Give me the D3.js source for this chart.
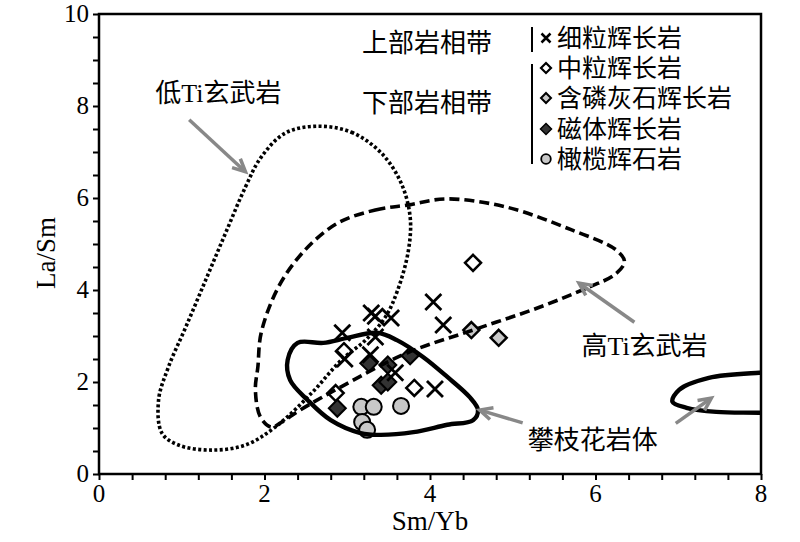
<!DOCTYPE html>
<html><head><meta charset="utf-8">
<script src="https://cdn.jsdelivr.net/npm/d3@7"></script>
<style>body{margin:0;background:#fff}svg{display:block}</style>
</head><body>
<svg id="c" width="800" height="542"></svg>
<script>
// ---- data ----
const xTicks = [0, 2, 4, 6, 8];
const yTicks = [0, 2, 4, 6, 8, 10];
const xLabel = "Sm/Yb";
const yLabel = "La/Sm";

// 细粒辉长岩 (crosses)
const fineGabbro = [[2.94,3.07],[2.97,2.50],[3.29,3.50],[3.34,3.43],[3.53,3.39],[3.34,2.98],[3.28,2.59],[3.58,2.20],[4.04,3.74],[4.16,3.24],[4.06,1.85]];
// 中粒辉长岩 (open diamonds)
const mediumGabbro = [[4.52,4.59],[2.96,2.67],[3.81,1.87],[2.86,1.76]];
// 含磷灰石辉长岩 (grey diamonds)
const apatiteGabbro = [[4.83,2.96],[4.50,3.13]];
// 磁体辉长岩 (black diamonds)
const magnetiteGabbro = [[2.88,1.43],[3.26,2.41],[3.49,2.37],[3.41,1.93],[3.49,2.00],[3.76,2.57]];
// 橄榄辉石岩 (grey circles)
const olivinePyroxenite = [[3.17,1.46],[3.32,1.46],[3.65,1.48],[3.18,1.13],[3.24,0.96]];

// fields
const lowTiField = [[2.63,7.56],[3.05,7.43],[3.41,6.98],[3.65,6.33],[3.76,5.59],[3.74,4.87],[3.61,4.00],[3.46,3.41],[3.22,2.91],[2.93,2.48],[2.57,1.76],[2.13,1.02],[1.77,0.63],[1.36,0.52],[0.96,0.63],[0.76,0.89],[0.72,1.61],[0.84,2.33],[1.05,3.20],[1.29,4.22],[1.53,5.24],[1.77,6.24],[1.96,6.89],[2.25,7.41]];
const highTiField = [[2.89,5.46],[3.34,5.74],[3.74,5.85],[4.20,5.98],[4.93,5.80],[5.72,5.30],[6.25,4.87],[6.35,4.61],[6.23,4.33],[5.93,4.07],[5.33,3.63],[4.52,3.13],[3.72,2.63],[2.92,1.89],[2.43,1.39],[2.20,1.12],[2.08,1.02],[1.95,1.24],[1.89,1.83],[1.92,2.33],[1.96,3.07],[2.17,4.07],[2.49,4.87]];
const panzhihuaField = [[2.28,2.48],[2.40,2.85],[2.71,2.85],[3.00,2.96],[3.36,3.07],[3.60,2.91],[3.92,2.54],[4.21,2.11],[4.48,1.67],[4.58,1.39],[4.52,1.17],[4.21,1.07],[3.80,0.91],[3.40,0.85],[3.16,0.89],[2.80,1.17],[2.52,1.61],[2.31,2.04]];
const panzhihuaField2 = [[8.46,2.22],[7.98,2.20],[7.37,2.09],[7.01,1.83],[6.93,1.57],[7.10,1.44],[7.46,1.35],[7.98,1.33],[8.46,1.30]];

// annotation labels and arrows [fromX,fromY,toX,toY]
const fieldLabels = [
  {text:"低Ti玄武岩", x:0.68, y:8.08},
  {text:"高Ti玄武岩", x:5.83, y:2.58},
  {text:"攀枝花岩体", x:5.18, y:0.55}
];
const arrows = [[1.09,7.70,1.77,6.57],[6.47,3.30,5.80,4.15],[5.12,1.11,4.60,1.39],[6.97,1.10,7.40,1.65]];

const zoneLabels = ["上部岩相带", "下部岩相带"];
const legendNames = ["细粒辉长岩", "中粒辉长岩", "含磷灰石辉长岩", "磁体辉长岩", "橄榄辉石岩"];

// ---- drawing ----
const svg = d3.select("#c");
const L = 99, R = 761, T = 14, B = 474;
const x = d3.scaleLinear().domain([0, 8]).range([L, R]);
const y = d3.scaleLinear().domain([0, 10]).range([B, T]);
const serif = "'Liberation Serif','Times New Roman','Noto Sans CJK SC',serif";

svg.append("defs").append("clipPath").attr("id","clip")
  .append("rect").attr("x",L).attr("y",T).attr("width",R-L).attr("height",B-T);

// axes
const xAxis = d3.axisBottom(x).tickValues(d3.range(0, 8.01, 0.4)).tickSize(6).tickFormat("");
const gx = svg.append("g").attr("transform",`translate(0,${B})`).call(xAxis);
const yAxis = d3.axisLeft(y).tickValues(d3.range(0, 10.01, 0.5)).tickSize(6).tickFormat("");
const gy = svg.append("g").attr("transform",`translate(${L},0)`).call(yAxis);
[gx, gy].forEach(g => {
  g.select(".domain").remove();
  g.selectAll(".tick line").attr("stroke","#000").attr("stroke-width",2);
});
svg.append("g").selectAll("text").data(xTicks).join("text")
  .attr("x", d => x(d)).attr("y", B + 28).attr("text-anchor","middle")
  .attr("font-family", serif).attr("font-size", 25).text(d => d);
svg.append("g").selectAll("text").data(yTicks).join("text")
  .attr("x", L - 10).attr("y", d => y(d) + 8).attr("text-anchor","end")
  .attr("font-family", serif).attr("font-size", 25).text(d => d);

svg.append("rect").attr("x",L).attr("y",T).attr("width",R-L).attr("height",B-T)
  .attr("fill","none").attr("stroke","#000").attr("stroke-width",2.5);

svg.append("text").attr("x",(L+R)/2).attr("y",530).attr("text-anchor","middle")
  .attr("font-family",serif).attr("font-size",27).text(xLabel);
svg.append("text").attr("transform",`translate(55,253) rotate(-90)`).attr("text-anchor","middle")
  .attr("font-family",serif).attr("font-size",27).text(yLabel);

// symbols
const diamond = s => `M0,${-s}L${s},0L0,${s}L${-s},0Z`;
const plot = svg.append("g");
plot.selectAll(".circ").data(olivinePyroxenite).join("circle")
  .attr("cx", d => x(d[0])).attr("cy", d => y(d[1])).attr("r", 8)
  .attr("fill","#c8c8c8").attr("stroke","#000").attr("stroke-width",2);
plot.selectAll(".md").data(mediumGabbro).join("path")
  .attr("transform", d => `translate(${x(d[0])},${y(d[1])})`).attr("d", diamond(8))
  .attr("fill","#fff").attr("stroke","#000").attr("stroke-width",2.5);
plot.selectAll(".ad").data(apatiteGabbro).join("path")
  .attr("transform", d => `translate(${x(d[0])},${y(d[1])})`).attr("d", diamond(8))
  .attr("fill","#c8c8c8").attr("stroke","#000").attr("stroke-width",2.5);
plot.selectAll(".bd").data(magnetiteGabbro).join("path")
  .attr("transform", d => `translate(${x(d[0])},${y(d[1])})`).attr("d", diamond(8.5))
  .attr("fill","#333").attr("stroke","#000").attr("stroke-width",2);
plot.selectAll(".cr").data(fineGabbro).join("path")
  .attr("transform", d => `translate(${x(d[0])},${y(d[1])})`).attr("d","M-8,-8L8,8M8,-8L-8,8")
  .attr("fill","none").attr("stroke","#000").attr("stroke-width",2.8);

// fields
const closed = d3.line().x(d => x(d[0])).y(d => y(d[1])).curve(d3.curveCatmullRomClosed.alpha(0.5));
const open = d3.line().x(d => x(d[0])).y(d => y(d[1])).curve(d3.curveCatmullRom.alpha(0.5));
const fg = svg.append("g").attr("clip-path","url(#clip)");
fg.append("path").attr("d", closed(lowTiField)).attr("fill","none").attr("stroke","#000")
  .attr("stroke-width",3.6).attr("stroke-dasharray","3,2.4");
fg.append("path").attr("d", closed(highTiField)).attr("fill","none").attr("stroke","#000")
  .attr("stroke-width",3.6).attr("stroke-dasharray","10,5");
fg.append("path").attr("d", closed(panzhihuaField)).attr("fill","none").attr("stroke","#000")
  .attr("stroke-width",4.4);
fg.append("path").attr("d", open(panzhihuaField2)).attr("fill","none").attr("stroke","#000")
  .attr("stroke-width",4.4);

// arrows
const ag = svg.append("g").attr("stroke","#888").attr("stroke-width",3.5).attr("fill","none").attr("stroke-linecap","butt");
arrows.forEach(a => {
  const x1 = x(a[0]), y1 = y(a[1]), x2 = x(a[2]), y2 = y(a[3]);
  const ang = Math.atan2(y2 - y1, x2 - x1), h = 14, w = 0.45;
  ag.append("line").attr("x1",x1).attr("y1",y1).attr("x2",x2 - 2*Math.cos(ang)).attr("y2",y2 - 2*Math.sin(ang));
  ag.append("path").attr("d",
    `M${x2 - h*Math.cos(ang - w)},${y2 - h*Math.sin(ang - w)}L${x2},${y2}L${x2 - h*Math.cos(ang + w)},${y2 - h*Math.sin(ang + w)}`)
    .attr("stroke-linejoin","miter");
});

// field labels
svg.append("g").selectAll("text").data(fieldLabels).join("text")
  .attr("x", d => x(d.x)).attr("y", d => y(d.y))
  .attr("font-family", serif).attr("font-size", 26).text(d => d.text);

// zone labels and legend
const lg = svg.append("g");
lg.selectAll(".z").data(zoneLabels).join("text")
  .attr("x", 362).attr("y", (d,i) => [52, 112][i])
  .attr("font-family", serif).attr("font-size", 26).text(d => d);
lg.append("line").attr("x1",532).attr("x2",532).attr("y1",27).attr("y2",52).attr("stroke","#000").attr("stroke-width",2);
lg.append("line").attr("x1",532).attr("x2",532).attr("y1",64).attr("y2",164).attr("stroke","#000").attr("stroke-width",2);
const ly = [38, 68, 98, 129, 159];
lg.selectAll(".lt").data(legendNames).join("text")
  .attr("x", 557).attr("y", (d,i) => ly[i] + 9)
  .attr("font-family", serif).attr("font-size", 25).text(d => d);
const lx = 546;
lg.append("path").attr("d",`M${lx-4.5},${ly[0]-4.5}L${lx+4.5},${ly[0]+4.5}M${lx+4.5},${ly[0]-4.5}L${lx-4.5},${ly[0]+4.5}`)
  .attr("stroke","#000").attr("stroke-width",2.5);
lg.append("path").attr("transform",`translate(${lx},${ly[1]})`).attr("d",diamond(5)).attr("fill","#fff").attr("stroke","#000").attr("stroke-width",2.2);
lg.append("path").attr("transform",`translate(${lx},${ly[2]})`).attr("d",diamond(5)).attr("fill","#c8c8c8").attr("stroke","#000").attr("stroke-width",2);
lg.append("path").attr("transform",`translate(${lx},${ly[3]})`).attr("d",diamond(5.5)).attr("fill","#333").attr("stroke","#000").attr("stroke-width",1.5);
lg.append("circle").attr("cx",lx).attr("cy",ly[4]).attr("r",4.8).attr("fill","#c8c8c8").attr("stroke","#000").attr("stroke-width",1.8);
</script>
</body></html>
